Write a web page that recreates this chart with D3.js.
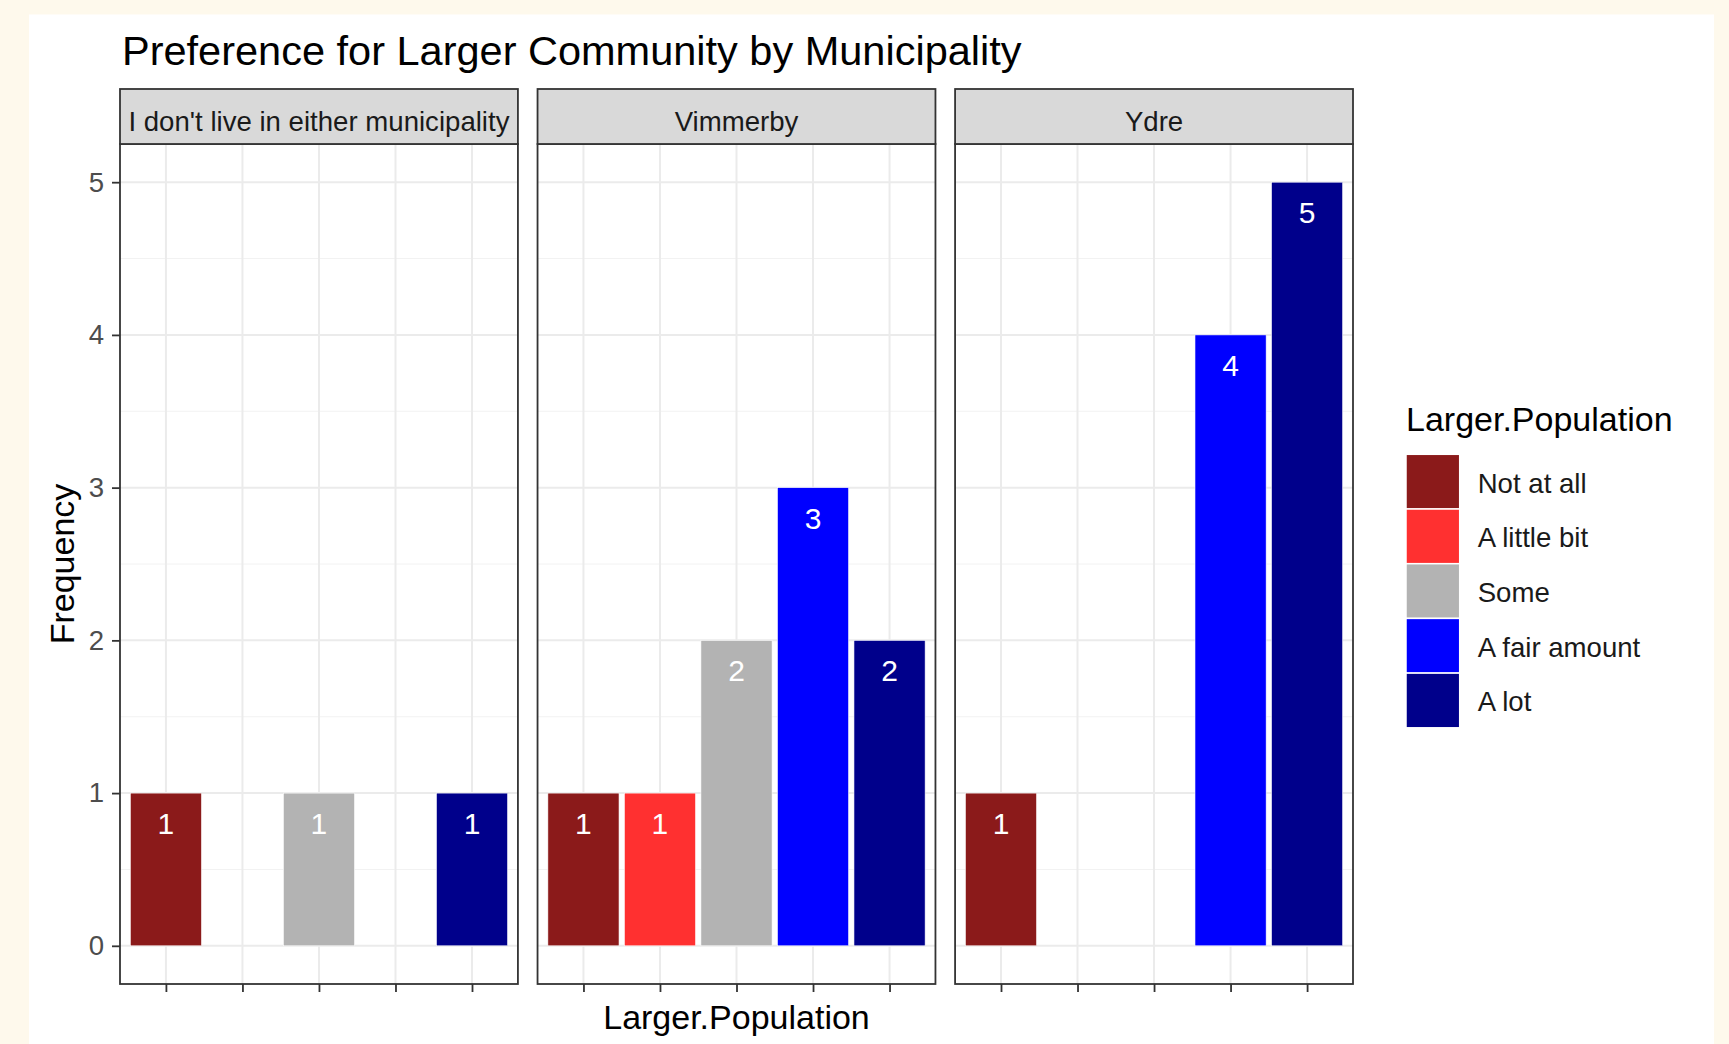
<!DOCTYPE html>
<html>
<head>
<meta charset="utf-8">
<script src="https://cdn.jsdelivr.net/npm/d3@7"></script>
<style>
  html, body { margin: 0; padding: 0; background: #fef9ec; }
  svg { display: block; }
  text { font-family: "Liberation Sans", Arial, sans-serif; }
</style>
</head>
<body>
<div id="chart"></div>
<script>
// data
var municipalities = ["I don't live in either municipality", "Vimmerby", "Ydre"];
var levels = ["Not at all", "A little bit", "Some", "A fair amount", "A lot"];
var neitherCounts = [1, 0, 1, 0, 1];
var vimmerbyCounts = [1, 1, 2, 3, 2];
var ydreCounts = [1, 0, 0, 4, 5];
var yTicks = [0, 1, 2, 3, 4, 5];

var allCounts = [neitherCounts, vimmerbyCounts, ydreCounts];

// flat rows, one per non-empty bar
var rows = [];
municipalities.forEach(function (m, i) {
    levels.forEach(function (l, j) {
        if (allCounts[i][j] > 0) rows.push({ muni: m, level: l, n: allCounts[i][j] });
    });
});

var W = 1729, H = 1044;

var svg = d3.select('#chart')
    .append('svg')
    .attr('width', W)
    .attr('height', H);

// white plot background over the cream page
svg.append('rect')
    .attr('x', 29).attr('y', 14.5)
    .attr('width', 1714 - 29).attr('height', H - 14.5)
    .attr('fill', '#ffffff');

var panelTop = 144, panelBottom = 984, stripTop = 89;

var facetScale = d3.scaleBand()
    .domain(municipalities)
    .range([120, 1353])
    .paddingInner(0.047);

var colour = d3.scaleOrdinal()
    .domain(levels)
    .range(['#8b1a1a', '#ff3030', '#b3b3b3', '#0000ff', '#00008b']);

var yScale = d3.scaleLinear()
    .domain([-0.25, 5.25])
    .range([panelBottom, panelTop]);

var pw = facetScale.bandwidth();

var xScale = d3.scalePoint()
    .domain(levels)
    .range([0, pw])
    .padding(0.6);

var barW = xScale.step() * 0.93;

municipalities.forEach(function (m, i) {
    var g = svg.append('g')
        .attr('transform', `translate(${facetScale(m)},0)`);

    // minor grid
    g.selectAll('.minor')
        .data(d3.range(0.5, 5.5, 1))
        .enter()
        .append('line')
        .attr('x1', 0).attr('x2', pw)
        .attr('y1', function (d) { return yScale(d); })
        .attr('y2', function (d) { return yScale(d); })
        .attr('stroke', '#f2f2f2')
        .attr('stroke-width', 1);

    // major grid
    g.selectAll('.majory')
        .data(yTicks)
        .enter()
        .append('line')
        .attr('x1', 0).attr('x2', pw)
        .attr('y1', function (d) { return yScale(d); })
        .attr('y2', function (d) { return yScale(d); })
        .attr('stroke', '#ebebeb')
        .attr('stroke-width', 2);

    g.selectAll('.majorx')
        .data(levels)
        .enter()
        .append('line')
        .attr('x1', function (d) { return xScale(d); })
        .attr('x2', function (d) { return xScale(d); })
        .attr('y1', panelTop).attr('y2', panelBottom)
        .attr('stroke', '#ebebeb')
        .attr('stroke-width', 2);

    var data = rows.filter(function (r) { return r.muni === m; });

    g.selectAll('.bar')
        .data(data)
        .enter()
        .append('rect')
        .attr('x', function (d) { return xScale(d.level) - barW / 2; })
        .attr('y', function (d) { return yScale(d.n); })
        .attr('width', barW)
        .attr('height', function (d) { return yScale(0) - yScale(d.n); })
        .attr('fill', function (d) { return colour(d.level); })
        .attr('stroke', '#ffffff')
        .attr('stroke-width', 0.6);

    g.selectAll('.lab')
        .data(data)
        .enter()
        .append('text')
        .attr('x', function (d) { return xScale(d.level); })
        .attr('y', function (d) { return yScale(d.n) + 41; })
        .attr('text-anchor', 'middle')
        .attr('fill', '#ffffff')
        .attr('font-size', 30)
        .text(function (d) { return d.n; });

    // panel border
    g.append('rect')
        .attr('x', 0).attr('y', panelTop)
        .attr('width', pw).attr('height', panelBottom - panelTop)
        .attr('fill', 'none')
        .attr('stroke', '#333333')
        .attr('stroke-width', 1.8);

    // strip
    g.append('rect')
        .attr('x', 0).attr('y', stripTop)
        .attr('width', pw).attr('height', panelTop - stripTop)
        .attr('fill', '#d9d9d9')
        .attr('stroke', '#333333')
        .attr('stroke-width', 1.8);

    g.append('text')
        .attr('x', pw / 2)
        .attr('y', 131)
        .attr('text-anchor', 'middle')
        .attr('fill', '#1a1a1a')
        .attr('font-size', 27.6)
        .text(m);

    // x ticks, no labels
    var xAxis = d3.axisBottom(xScale).tickSize(8).tickFormat('');
    var ax = g.append('g')
        .attr('transform', `translate(0,${panelBottom})`)
        .call(xAxis);
    ax.select('.domain').remove();
    ax.selectAll('.tick line').attr('stroke', '#333333').attr('stroke-width', 1.8);
});

// y axis on the first panel
var yAxis = d3.axisLeft(yScale)
    .tickValues(yTicks)
    .tickFormat(d3.format('d'))
    .tickSize(8)
    .tickPadding(8);
var ay = svg.append('g')
    .attr('transform', `translate(${facetScale(municipalities[0])},0)`)
    .call(yAxis);
ay.select('.domain').remove();
ay.selectAll('.tick line').attr('stroke', '#333333').attr('stroke-width', 1.8);
ay.selectAll('.tick text')
    .attr('fill', '#4d4d4d')
    .attr('font-size', 27.6)
    .attr('font-family', '"Liberation Sans", Arial, sans-serif');

// titles
svg.append('text')
    .attr('x', 122)
    .attr('y', 65)
    .attr('font-size', 41.5)
    .attr('fill', '#000000')
    .text('Preference for Larger Community by Municipality');

svg.append('text')
    .attr('x', (120 + 1353) / 2)
    .attr('y', 1029)
    .attr('text-anchor', 'middle')
    .attr('font-size', 34)
    .attr('fill', '#000000')
    .text('Larger.Population');

svg.append('text')
    .attr('transform', `translate(74,${(panelTop + panelBottom) / 2}) rotate(-90)`)
    .attr('text-anchor', 'middle')
    .attr('font-size', 34)
    .attr('fill', '#000000')
    .text('Frequency');

// legend
var legend = svg.append('g').attr('transform', 'translate(1406,0)');

legend.append('text')
    .attr('x', 0)
    .attr('y', 431)
    .attr('font-size', 34)
    .attr('fill', '#000000')
    .text('Larger.Population');

var keyH = 54.7, keyW = 53.7, keyTop = 454.3;

legend.selectAll('.key')
    .data(levels)
    .enter()
    .append('rect')
    .attr('x', 0)
    .attr('y', function (d, i) { return keyTop + i * keyH; })
    .attr('width', keyW)
    .attr('height', keyH)
    .attr('fill', function (d) { return colour(d); })
    .attr('stroke', '#ffffff')
    .attr('stroke-width', 1.5);

legend.selectAll('.klab')
    .data(levels)
    .enter()
    .append('text')
    .attr('x', 71.7)
    .attr('y', function (d, i) { return keyTop + i * keyH + keyH / 2 + 11; })
    .attr('font-size', 27.6)
    .attr('fill', '#1a1a1a')
    .text(function (d) { return d; });
</script>
</body>
</html>
